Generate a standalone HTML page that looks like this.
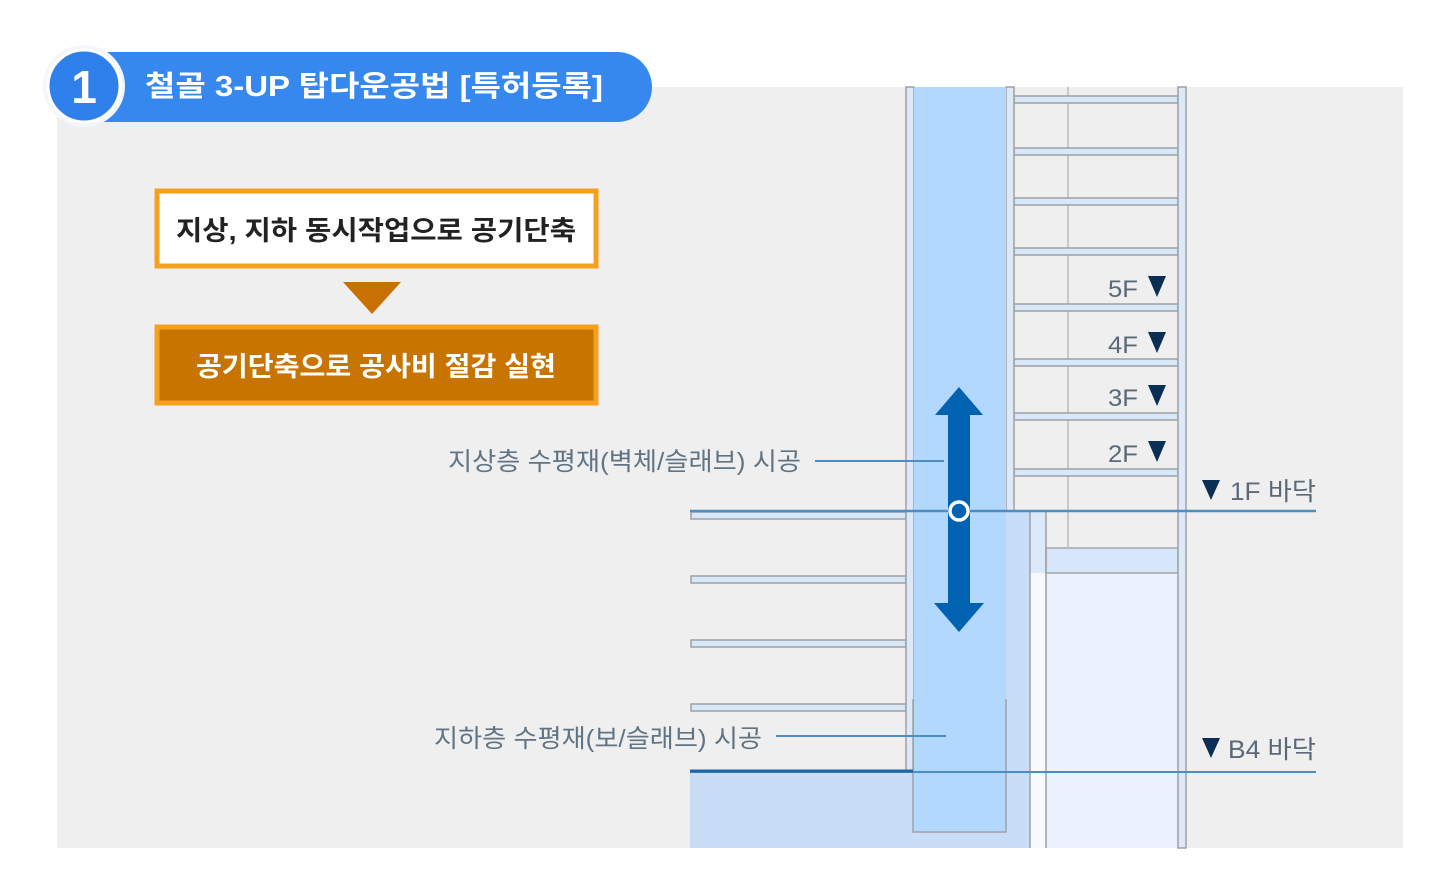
<!DOCTYPE html>
<html><head><meta charset="utf-8"><style>
html,body{margin:0;padding:0;background:#fff;}
svg{display:block;}
text{font-family:"Liberation Sans","Noto Sans CJK KR",sans-serif;}
</style></head><body>
<svg width="1447" height="893" viewBox="0 0 1447 893" xmlns="http://www.w3.org/2000/svg">
<rect x="0" y="0" width="1447" height="893" fill="#ffffff"/>
<rect x="57" y="87" width="1346" height="761" fill="#efefef"/>

<!-- header pill -->
<rect x="70" y="52" width="582" height="70" rx="35" fill="#3688ee"/>
<circle cx="84" cy="86" r="41" fill="#f3f6fb"/>
<circle cx="84" cy="86" r="36" fill="#2f80ea" stroke="#ffffff" stroke-width="3"/>
<text x="84" y="103" font-size="46" font-weight="bold" fill="#fff" text-anchor="middle">1</text>
<text x="145" y="96" font-size="29" font-weight="bold" fill="#fff" textLength="458" lengthAdjust="spacingAndGlyphs">철골 3-UP 탑다운공법 [특허등록]</text>

<!-- box 1 -->
<rect x="157" y="191" width="439" height="75" fill="#fff" stroke="#f7a020" stroke-width="5"/>
<text x="376" y="240" font-size="27" font-weight="bold" fill="#222" text-anchor="middle" textLength="400" lengthAdjust="spacingAndGlyphs">지상,  지하 동시작업으로 공기단축</text>
<polygon points="343,282 401,282 372,314" fill="#c87000"/>
<!-- box 2 -->
<rect x="157" y="327" width="439" height="76" fill="#c87400" stroke="#f7a020" stroke-width="5"/>
<text x="376" y="376" font-size="27" font-weight="bold" fill="#fff" text-anchor="middle" textLength="360" lengthAdjust="spacingAndGlyphs">공기단축으로 공사비 절감 실현</text>

<!-- underground fills -->
<rect x="1006" y="511" width="24" height="337" fill="#c8ddf7"/>
<rect x="1030" y="511" width="16" height="337" fill="#f6f9fd"/>
<rect x="1046" y="548" width="132" height="300" fill="#eaf2fd"/>
<rect x="1030" y="511" width="16" height="62" fill="#dce9fb"/>
<rect x="1046" y="548" width="132" height="25" fill="#d6e6fb" stroke="#a8a8a8" stroke-width="1.5"/>
<rect x="690" y="772" width="340" height="76" fill="#c9ddf7"/>
<line x1="1030" y1="511" x2="1030" y2="848" stroke="#a0a0a0" stroke-width="1.5"/>
<line x1="1046" y1="511" x2="1046" y2="848" stroke="#a0a0a0" stroke-width="1.5"/>

<!-- building upper -->
<line x1="1068" y1="87" x2="1068" y2="548" stroke="#bbbbbb" stroke-width="1.5"/>
<g fill="#d6e8fc" stroke="#a0a0a0" stroke-width="1.5">
<rect x="1014" y="96" width="164" height="7"/>
<rect x="1014" y="148" width="164" height="7"/>
<rect x="1014" y="198" width="164" height="7"/>
<rect x="1014" y="248" width="164" height="7"/>
<rect x="1014" y="304" width="164" height="7"/>
<rect x="1014" y="359" width="164" height="7"/>
<rect x="1014" y="413" width="164" height="7"/>
<rect x="1014" y="469" width="164" height="7"/>
</g>
<g fill="#d6e8fc" stroke="#a0a0a0" stroke-width="1.5">
<rect x="691" y="512" width="215" height="7"/>
<rect x="691" y="576" width="215" height="7"/>
<rect x="691" y="640" width="215" height="7"/>
<rect x="691" y="704" width="215" height="7"/>
</g>
<!-- columns -->
<rect x="906" y="87" width="8" height="685" fill="#dde9f7" stroke="#a0a0a0" stroke-width="1.5"/>
<rect x="1006" y="87" width="8" height="424" fill="#dde9f7" stroke="#a0a0a0" stroke-width="1.5"/>
<rect x="1178" y="87" width="8" height="761" fill="#dde9f7" stroke="#a0a0a0" stroke-width="1.5"/>
<rect x="914" y="87" width="92" height="745" fill="#b3d8fd"/>
<rect x="913" y="700" width="93" height="132" fill="none" stroke="#a0a0a0" stroke-width="1.5"/>
<rect x="914" y="699" width="91" height="3" fill="#b3d8fd"/>

<!-- level lines -->
<line x1="690" y1="511" x2="1316" y2="511" stroke="#4b8ec6" stroke-width="2.5"/>
<line x1="690" y1="772" x2="1316" y2="772" stroke="#4b8ec6" stroke-width="2"/>
<line x1="690" y1="771" x2="913" y2="771" stroke="#1e68a8" stroke-width="3"/>

<!-- arrow -->
<rect x="948" y="414" width="22" height="191" fill="#0062b0"/>
<polygon points="959,387 983,415 935,415" fill="#0062b0"/>
<polygon points="934,603 984,603 959,632" fill="#0062b0"/>
<circle cx="959" cy="511" r="9" fill="#0062b0" stroke="#fff" stroke-width="3.5"/>

<!-- floor labels -->
<g font-size="24" fill="#5a6878">
<text x="1108" y="297" textLength="30" lengthAdjust="spacingAndGlyphs">5F</text>
<text x="1108" y="353" textLength="30" lengthAdjust="spacingAndGlyphs">4F</text>
<text x="1108" y="406" textLength="30" lengthAdjust="spacingAndGlyphs">3F</text>
<text x="1108" y="462" textLength="30" lengthAdjust="spacingAndGlyphs">2F</text>
</g>
<g fill="#0b2e55">
<polygon points="1148,276 1166,276 1157,297"/>
<polygon points="1148,332 1166,332 1157,353"/>
<polygon points="1148,385 1166,385 1157,406"/>
<polygon points="1148,441 1166,441 1157,462"/>
<polygon points="1202,480 1220,480 1211,500"/>
<polygon points="1202,738 1220,738 1211,758"/>
</g>
<text x="1230" y="500" font-size="25" fill="#5a6878" textLength="86" lengthAdjust="spacingAndGlyphs">1F 바닥</text>
<text x="1228" y="758" font-size="25" fill="#5a6878" textLength="88" lengthAdjust="spacingAndGlyphs">B4 바닥</text>

<!-- callouts -->
<text x="448" y="470" font-size="25" fill="#607484" textLength="353" lengthAdjust="spacingAndGlyphs">지상층 수평재(벽체/슬래브) 시공</text>
<line x1="815" y1="461" x2="944" y2="461" stroke="#4b8ec6" stroke-width="2"/>
<text x="434" y="747" font-size="25" fill="#607484" textLength="328" lengthAdjust="spacingAndGlyphs">지하층 수평재(보/슬래브) 시공</text>
<line x1="776" y1="736" x2="946" y2="736" stroke="#4b8ec6" stroke-width="2"/>
</svg>
</body></html>
